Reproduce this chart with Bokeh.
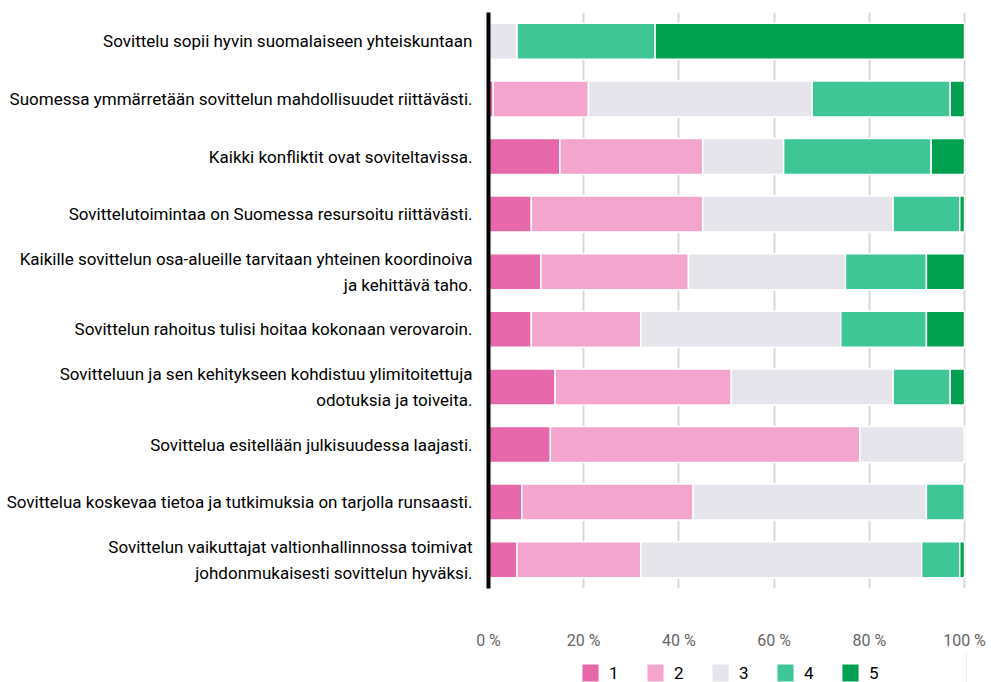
from bokeh.plotting import figure
from bokeh.layouts import column
from bokeh.models import FactorRange, Range1d, FixedTicker, PrintfTickFormatter, Legend, LegendItem
from bokeh.embed import file_html
from bokeh.resources import INLINE

categories = [
    "Sovittelu sopii hyvin suomalaiseen yhteiskuntaan",
    "Suomessa ymmärretään sovittelun mahdollisuudet riittävästi.",
    "Kaikki konfliktit ovat soviteltavissa.",
    "Sovittelutoimintaa on Suomessa resursoitu riittävästi.",
    "Kaikille sovittelun osa-alueille tarvitaan yhteinen koordinoiva\nja kehittävä taho.",
    "Sovittelun rahoitus tulisi hoitaa kokonaan verovaroin.",
    "Sovitteluun ja sen kehitykseen kohdistuu ylimitoitettuja\nodotuksia ja toiveita.",
    "Sovittelua esitellään julkisuudessa laajasti.",
    "Sovittelua koskevaa tietoa ja tutkimuksia on tarjolla runsaasti.",
    "Sovittelun vaikuttajat valtionhallinnossa toimivat\njohdonmukaisesti sovittelun hyväksi.",
]
s1 = [0, 1, 15, 9, 11, 9, 14, 13, 7, 6]
s2 = [0, 20, 30, 36, 31, 23, 37, 65, 36, 26]
s3 = [6, 47, 17, 40, 33, 42, 34, 22, 49, 59]
s4 = [29, 29, 31, 14, 17, 18, 12, 0, 8, 8]
s5 = [65, 3, 7, 1, 8, 8, 3, 0, 0, 1]
series_names = ["1", "2", "3", "4", "5"]
colors = ["#e767ab", "#f4a5cd", "#e7e5ec", "#3ec697", "#00a050"]
x_ticks = [0, 20, 40, 60, 80, 100]

FONT = "Roboto"
stack_keys = ["s1", "s2", "s3", "s4", "s5"]

data = dict(cat=categories, s1=s1, s2=s2, s3=s3, s4=s4, s5=s5)

# ---- main chart ----
p = figure(
    y_range=FactorRange(factors=list(reversed(categories)), range_padding=0),
    x_range=Range1d(0, 100.42),
    frame_width=478, frame_height=576,
    min_border_left=488, min_border_right=20, min_border_top=12, min_border_bottom=0,
    output_backend="svg", toolbar_location=None,
)
p.outline_line_color = None
p.background_fill_color = "white"
p.border_fill_color = "white"

renderers = p.hbar_stack(stack_keys, y="cat", height=0.625,
                         color=colors, source=dict(data),
                         line_color="white", line_width=1.5)

p.ygrid.grid_line_color = None
p.xgrid.ticker = FixedTicker(ticks=x_ticks)
p.xgrid.grid_line_color = "#d9d9d9"
p.xgrid.grid_line_width = 2

p.xaxis.ticker = FixedTicker(ticks=x_ticks)
p.xaxis.formatter = PrintfTickFormatter(format="%d %%")
p.xaxis.axis_line_color = None
p.xaxis.major_tick_line_color = None
p.xaxis.minor_tick_line_color = None
p.xaxis.major_tick_out = 0
p.xaxis.major_tick_in = 0
p.xaxis.major_label_standoff = 42
p.xaxis.major_label_text_font = FONT
p.xaxis.major_label_text_font_size = "16px"
p.xaxis.major_label_text_color = "#666666"

p.yaxis.axis_line_color = "black"
p.yaxis.axis_line_width = 4
p.yaxis.major_tick_line_color = None
p.yaxis.minor_tick_line_color = None
p.yaxis.major_tick_out = 0
p.yaxis.major_tick_in = 0
p.yaxis.major_label_standoff = 16
p.yaxis.major_label_text_font = FONT
p.yaxis.major_label_text_font_size = "17px"
p.yaxis.major_label_text_color = "black"
p.yaxis.major_label_text_line_height = 1.3

# ---- legend strip (same series; bars lie outside its x range) ----
q = figure(
    y_range=FactorRange(factors=list(reversed(categories))),
    x_range=Range1d(-1001, -1000),
    frame_width=478, frame_height=33,
    min_border_left=488, min_border_right=20, min_border_top=0, min_border_bottom=0,
    x_axis_location=None, y_axis_location=None,
    output_backend="svg", toolbar_location=None,
)
q.outline_line_color = None
q.xgrid.grid_line_color = None
q.ygrid.grid_line_color = None
q.border_fill_color = "white"
q.background_fill_color = "white"

q_renderers = q.hbar_stack(stack_keys, y="cat", height=0.625,
                           color=colors, source=dict(data),
                           line_color="white", line_width=1.5)

legend = Legend(
    items=[LegendItem(label=n, renderers=[r]) for n, r in zip(series_names, q_renderers)],
    orientation="horizontal", location=(91, 1),
    glyph_width=22, glyph_height=23, label_standoff=8, label_width=10, spacing=25,
    label_text_font=FONT, label_text_font_size="17px", label_text_color="black",
    border_line_color=None, background_fill_alpha=0, padding=0, margin=0,
)
q.add_layout(legend, "center")

layout = column(p, q, spacing=0)

open("out.html", "w").write(file_html(layout, INLINE))
